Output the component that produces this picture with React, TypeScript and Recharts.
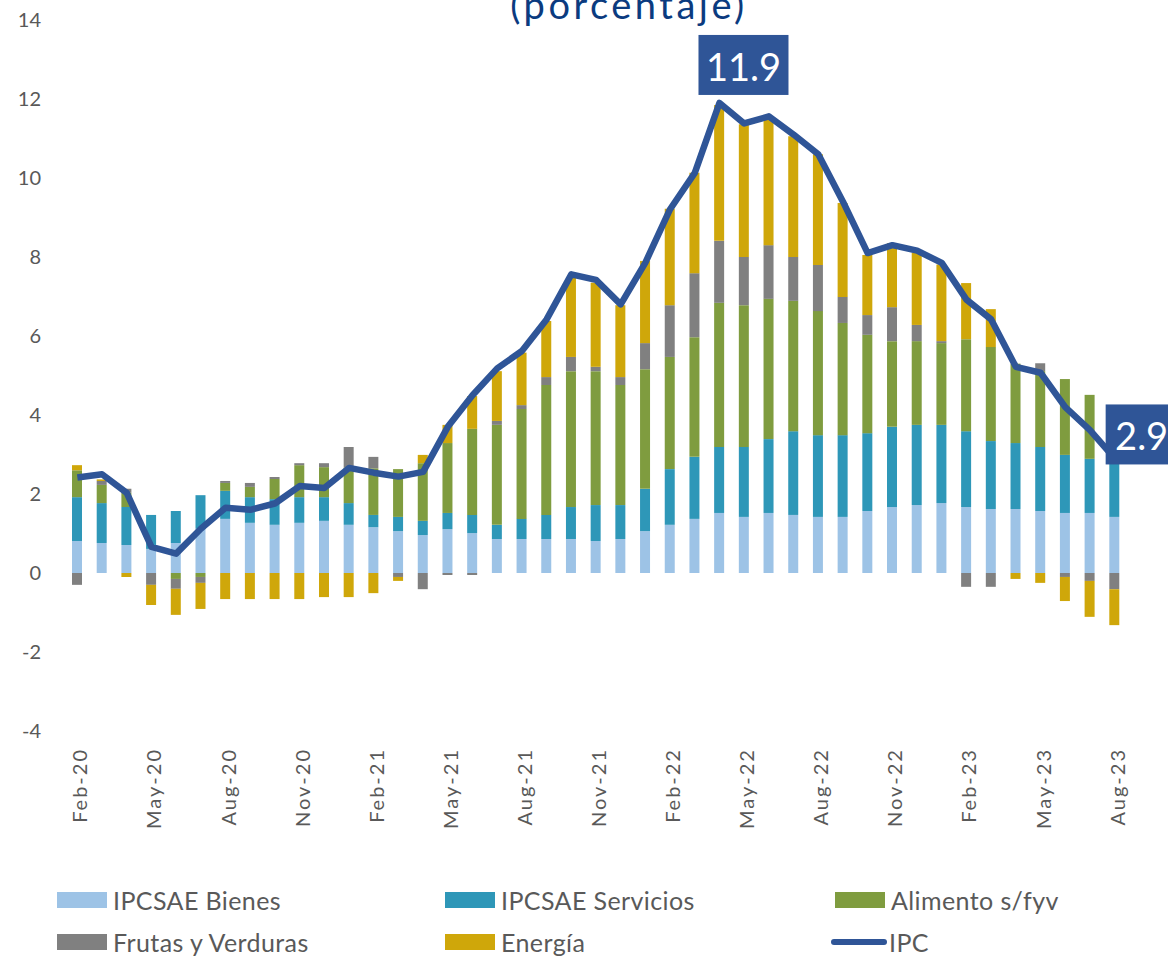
import React from 'react';
import { Bar, ComposedChart, LabelList, Legend, Line, XAxis, YAxis } from 'recharts';

const months = [
  'Feb-20', 'Mar-20', 'Apr-20', 'May-20', 'Jun-20', 'Jul-20', 'Aug-20', 'Sep-20', 'Oct-20', 'Nov-20', 'Dec-20',
  'Jan-21', 'Feb-21', 'Mar-21', 'Apr-21', 'May-21', 'Jun-21', 'Jul-21', 'Aug-21', 'Sep-21', 'Oct-21', 'Nov-21', 'Dec-21',
  'Jan-22', 'Feb-22', 'Mar-22', 'Apr-22', 'May-22', 'Jun-22', 'Jul-22', 'Aug-22', 'Sep-22', 'Oct-22', 'Nov-22', 'Dec-22',
  'Jan-23', 'Feb-23', 'Mar-23', 'Apr-23', 'May-23', 'Jun-23', 'Jul-23', 'Aug-23',
];

const bienes = [
  0.81, 0.76, 0.71, 0.61, 0.76, 1.12, 1.37, 1.27, 1.22, 1.27, 1.32,
  1.22, 1.16, 1.06, 0.96, 1.11, 1.01, 0.86, 0.86, 0.86, 0.86, 0.81, 0.86,
  1.06, 1.22, 1.37, 1.52, 1.42, 1.52, 1.47, 1.42, 1.42, 1.57, 1.67, 1.72,
  1.77, 1.67, 1.62, 1.62, 1.57, 1.52, 1.52, 1.42,
];

const servicios = [
  1.11, 1.01, 0.96, 0.86, 0.81, 0.85, 0.71, 0.65, 0.65, 0.65, 0.6,
  0.55, 0.31, 0.36, 0.36, 0.41, 0.46, 0.36, 0.51, 0.61, 0.81, 0.91, 0.86,
  1.07, 1.41, 1.57, 1.67, 1.77, 1.87, 2.12, 2.07, 2.07, 1.97, 2.03, 2.03,
  1.98, 1.92, 1.72, 1.67, 1.62, 1.47, 1.37, 1.53,
];

const alimentos = [
  0.68, 0.46, 0.36, 0, -0.15, -0.1, 0.2, 0.26, 0.51, 0.81, 0.76,
  0.9, 1.18, 1.21, 1.46, 1.77, 2.18, 2.53, 2.78, 3.29, 3.44, 3.39, 3.04,
  3.03, 2.84, 3.03, 3.65, 3.59, 3.55, 3.3, 3.14, 2.84, 2.49, 2.17, 2.12,
  2.07, 2.33, 2.38, 2.01, 1.92, 1.92, 1.62, 1.25,
];

const frutas = [
  -0.3, 0.1, 0.1, -0.3, -0.25, -0.15, 0.05, 0.1, 0.05, 0.05, 0.1,
  0.52, 0.29, -0.1, -0.41, -0.05, -0.05, 0.1, 0.1, 0.2, 0.36, 0.11, 0.2,
  0.66, 1.31, 1.62, 1.57, 1.22, 1.36, 1.11, 1.17, 0.66, 0.5, 0.86, 0.41,
  0.05, -0.35, -0.35, 0, 0.2, -0.1, -0.2, -0.41,
];

const energia = [
  0.13, 0.04, -0.1, -0.51, -0.66, -0.66, -0.66, -0.66, -0.66, -0.66, -0.61,
  -0.61, -0.51, -0.1, 0.21, 0.46, 0.83, 1.26, 1.33, 1.42, 2.01, 2.13, 1.82,
  2.08, 2.44, 2.54, 3.44, 3.36, 3.25, 3.06, 2.8, 2.38, 1.52, 1.62, 1.83,
  1.94, 1.42, 0.96, -0.15, -0.25, -0.61, -0.91, -0.91,
];

const ipc = [
  2.42, 2.5, 2.03, 0.66, 0.49, 1.12, 1.65, 1.6, 1.76, 2.2, 2.15,
  2.66, 2.54, 2.44, 2.56, 3.7, 4.5, 5.18, 5.62, 6.42, 7.56, 7.42, 6.8,
  7.86, 9.21, 10.13, 11.9, 11.38, 11.56, 11.1, 10.6, 9.4, 8.1, 8.3, 8.16,
  7.85, 6.92, 6.42, 5.22, 5.07, 4.2, 3.62, 2.9,
];

const yTicks = [-4, -2, 0, 2, 4, 6, 8, 10, 12, 14];

const barSeries = [
  { key: 'bienes', name: 'IPCSAE Bienes', color: '#9DC3E6' },
  { key: 'servicios', name: 'IPCSAE Servicios', color: '#2E97B8' },
  { key: 'alimentos', name: 'Alimento s/fyv', color: '#7F9C3F' },
  { key: 'frutas', name: 'Frutas y Verduras', color: '#808080' },
  { key: 'energia', name: 'Energía', color: '#CFA70A' },
];

const IPC_COLOR = '#2F5597';
const TEXT_GRAY = '#595959';

// which IPC points get the boxed callout, and where the box sits relative to the point
const callouts = [
  { index: 26, dx: 24, dy: -38, w: 90 },
  { index: 42, dx: 27, dy: -24, w: 72 },
];

const data = months.map((month, i) => ({
  month,
  bienes: bienes[i],
  servicios: servicios[i],
  alimentos: alimentos[i],
  frutas: frutas[i],
  energia: energia[i],
  ipc: ipc[i],
}));

function MonthTick({ x, y, payload }: any) {
  const ty = y + 9;
  return (
    <text
      x={x + 2}
      y={ty}
      transform={`rotate(-90, ${x + 2}, ${ty})`}
      textAnchor="end"
      dominantBaseline="central"
      fill={TEXT_GRAY}
      fontSize={20}
      letterSpacing={2}
    >
      {payload.value}
    </text>
  );
}

function IpcCallout(props: any) {
  const { x, y, value, index } = props;
  const c = callouts.find((item) => item.index === index);
  if (!c) return null;
  const cx = x + c.dx;
  const cy = y + c.dy;
  return (
    <g>
      <rect x={cx - c.w / 2} y={cy - 30} width={c.w} height={60} fill={IPC_COLOR} />
      <text x={cx} y={cy + 1} textAnchor="middle" dominantBaseline="central" fill="#fff" fontSize={38}>
        {Number(value).toFixed(1)}
      </text>
    </g>
  );
}

const legendCols = [57, 445, 835];
const legendRows = [23, 65];

function LegendBlock() {
  const items = [...barSeries.map((s) => ({ name: s.name, color: s.color, line: false })), { name: 'IPC', color: IPC_COLOR, line: true }];
  return (
    <div style={{ position: 'relative', width: 1168, height: 80 }}>
      {items.map((item, i) => {
        const left = legendCols[i % 3];
        const top = legendRows[Math.floor(i / 3)];
        return (
          <div key={item.name} style={{ position: 'absolute', left, top: top - 15, height: 30, display: 'flex', alignItems: 'center' }}>
            {item.line ? (
              <span style={{ display: 'inline-block', width: 56, height: 6, borderRadius: 3, background: item.color, marginLeft: -4, marginRight: 2 }} />
            ) : (
              <span style={{ display: 'inline-block', width: 50, height: 16, background: item.color, marginRight: 6 }} />
            )}
            <span style={{ fontSize: 25, color: TEXT_GRAY, whiteSpace: 'nowrap', lineHeight: '30px', letterSpacing: 0.4 }}>{item.name}</span>
          </div>
        );
      })}
    </div>
  );
}

export default function App() {
  return (
    <div style={{ position: 'absolute', top: 0, left: 0, width: 1168, height: 957, fontFamily: 'Lato, sans-serif', background: '#fff' }}>
      <ComposedChart
        width={1168}
        height={957}
        data={data}
        stackOffset="sign"
        margin={{ top: 20, right: 41, left: 15, bottom: 0 }}
      >
        <XAxis
          dataKey="month"
          interval={2}
          height={146}
          axisLine={false}
          tickLine={false}
          tick={<MonthTick />}
        />
        <YAxis
          domain={[-4, 14]}
          ticks={yTicks}
          width={50}
          axisLine={false}
          tickLine={false}
          tickMargin={18}
          tick={{ fill: TEXT_GRAY, fontSize: 20 }}
        />
        <Legend
          verticalAlign="bottom"
          wrapperStyle={{ left: 0, bottom: 0, width: 1168, height: 80 }}
          content={() => <LegendBlock />}
        />
        {barSeries.map((s) => (
          <Bar key={s.key} dataKey={s.key} name={s.name} stackId="a" fill={s.color} barSize={10} isAnimationActive={false} />
        ))}
        <Line
          type="linear"
          dataKey="ipc"
          name="IPC"
          stroke={IPC_COLOR}
          strokeWidth={6.5}
          strokeLinejoin="round"
          dot={false}
          activeDot={false}
          isAnimationActive={false}
        >
          <LabelList dataKey="ipc" content={<IpcCallout />} />
        </Line>
      </ComposedChart>
      <svg width={1168} height={40} style={{ position: 'absolute', top: 0, left: 0, pointerEvents: 'none' }}>
        <text x={629} y={19} textAnchor="middle" fill="#0B3B7F" fontSize={38} letterSpacing={3.5} fontFamily="Lato, sans-serif">
          (porcentaje)
        </text>
      </svg>
    </div>
  );
}
